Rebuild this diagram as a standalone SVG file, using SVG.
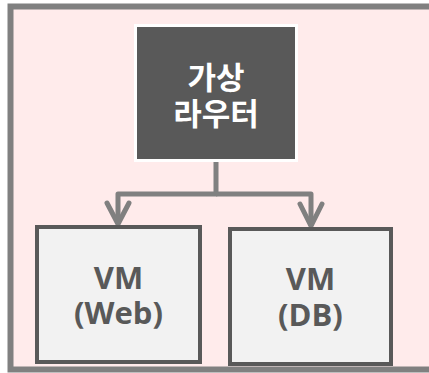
<svg xmlns="http://www.w3.org/2000/svg" width="429" height="373" viewBox="0 0 429 373">
<style>
.vm{fill:#F2F2F2;stroke:#595959;stroke-width:4}
.vt{font-family:"Open Sans","Noto Sans CJK KR",sans-serif;font-weight:bold;font-size:31px;fill:#595959;text-anchor:middle}
.rt{font-family:"Noto Sans CJK KR","Noto Sans",sans-serif;font-weight:bold;font-size:31px;fill:#FFFFFF;text-anchor:middle}
.con{fill:none;stroke:#808080;stroke-width:5;stroke-linejoin:round}
</style>
<rect x="0" y="0" width="429" height="373" fill="#FFFFFF"/>
<g id="container">
<rect x="10.5" y="6.5" width="430" height="363" fill="#FFEBEB" stroke="#808080" stroke-width="6"/>
</g>
<g id="router">
<rect x="135.5" y="25.5" width="161" height="135" fill="#595959" stroke="#FFFFFF" stroke-width="3"/>
<text class="rt"><tspan x="216" y="89">가상</tspan><tspan x="216" y="125">라우터</tspan></text>
</g>
<g id="connectors">
<polyline class="con" points="216,162 216,194 118,194 118,224"/>
<polyline class="con" points="216,194 311,194 311,226"/>
<polyline class="con" points="107,203 118,224 129,203" stroke-linecap="round"/>
<polyline class="con" points="300,204 311,226 322,204" stroke-linecap="round"/>
</g>
<g id="vm-web">
<rect class="vm" x="37" y="227" width="163" height="135"/>
<text class="vt"><tspan x="118.5" y="289">VM</tspan><tspan x="118.5" y="324">(Web)</tspan></text>
</g>
<g id="vm-db">
<rect class="vm" x="230" y="229" width="161" height="135"/>
<text class="vt"><tspan x="310.5" y="290">VM</tspan><tspan x="310.5" y="326">(DB)</tspan></text>
</g>
</svg>
